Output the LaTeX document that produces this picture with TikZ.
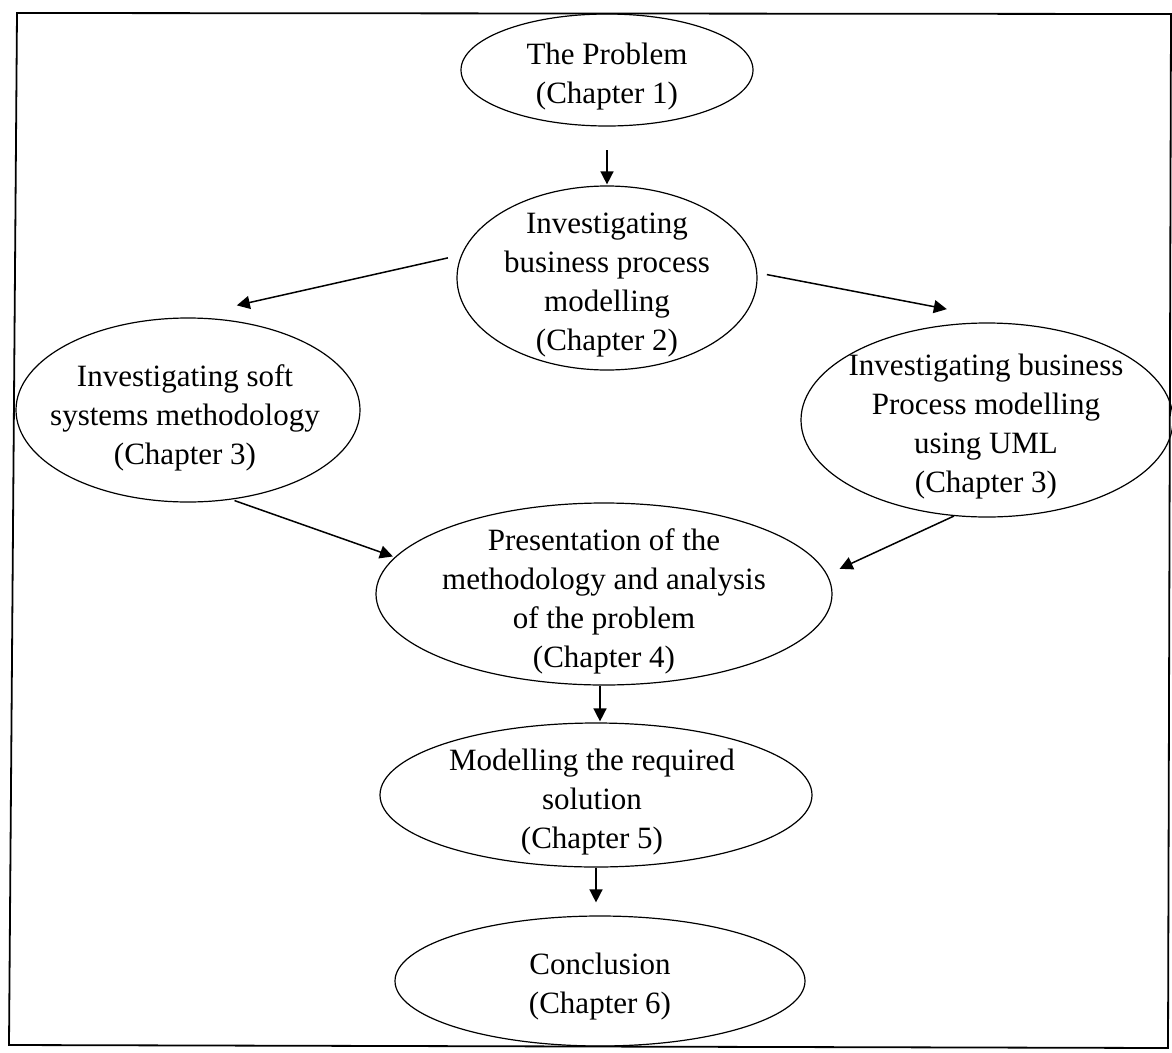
\documentclass[tikz,border=0pt]{standalone}
\usepackage{fontspec}
\setmainfont{Liberation Serif}
\usetikzlibrary{shapes.geometric,arrows.meta,calc}
\begin{document}
\begin{tikzpicture}[x=1pt,y=-1pt,
  stage/.style={ellipse, draw, line width=1.2pt, inner sep=0pt},
  lbl/.style={align=center, inner sep=0pt, font=\fontsize{31}{39}\selectfont},
  arr/.style={line width=1.5pt, -{Triangle[length=13pt,width=13pt]}}]
\useasboundingbox (0,0) rectangle (1172,1052);
% outer frame
\draw[line width=1.8pt] (17,13) -- (1171,14) -- (1168,1048) -- (9,1045) -- cycle;

% chapter ellipses
\node[stage, minimum width=292pt, minimum height=112pt] (n1) at (607,70) {};
\node[stage, minimum width=300pt, minimum height=184pt] (n2) at (607,278) {};
\node[stage, minimum width=344pt, minimum height=184pt] (n3) at (188,410) {};
\node[stage, minimum width=372pt, minimum height=194pt] (n4) at (987,420) {};
\node[stage, minimum width=456pt, minimum height=182pt] (n5) at (604,594) {};
\node[stage, minimum width=432pt, minimum height=144pt] (n6) at (596,795) {};
\node[stage, minimum width=410pt, minimum height=130pt] (n7) at (600,981) {};

% chapter texts
\node[lbl] (t1) at (607,77) {The Problem\\(Chapter 1)};
\node[lbl] (t2) at (607,285) {Investigating\\business process\\modelling\\(Chapter 2)};
\node[lbl] (t3) at (185,418) {Investigating soft\\systems methodology\\(Chapter 3)};
\node[lbl] (t4) at (986,427) {Investigating business\\Process modelling\\using UML\\(Chapter 3)};
\node[lbl] (t5) at (604,601) {Presentation of the\\methodology and analysis\\of the problem\\(Chapter 4)};
\node[lbl] (t6) at (592,802) {Modelling the required\\solution\\(Chapter 5)};
\node[lbl] (t7) at (600,987) {Conclusion\\(Chapter 6)};

% connectors
\draw[arr, shorten <=23.5pt, shorten >=1pt] (n1.south) -- (n2.north);
\draw[arr, shorten <=13.6pt, shorten >=55pt] (n2.171.4) -- (n3.93.5);
\draw[arr, shorten <=9.7pt, shorten >=84pt] (n2.2.6) -- (n4.66.4);
\draw[arr, shorten <=3pt, shorten >=2pt] (n3.296.4) -- (n5.170.2);
\draw[arr, shorten >=13.6pt] (n4.251.4) -- (n5.5.5);
\coordinate (m56) at ($(n5.south)!0.5!(n6.north)$);
\draw[arr, shorten >=1pt] (m56 |- n5.south) -- (m56 |- n6.north);
\draw[arr, shorten >=13pt] (n6.south) -- (n6.south |- n7.north);
\end{tikzpicture}
\end{document}
